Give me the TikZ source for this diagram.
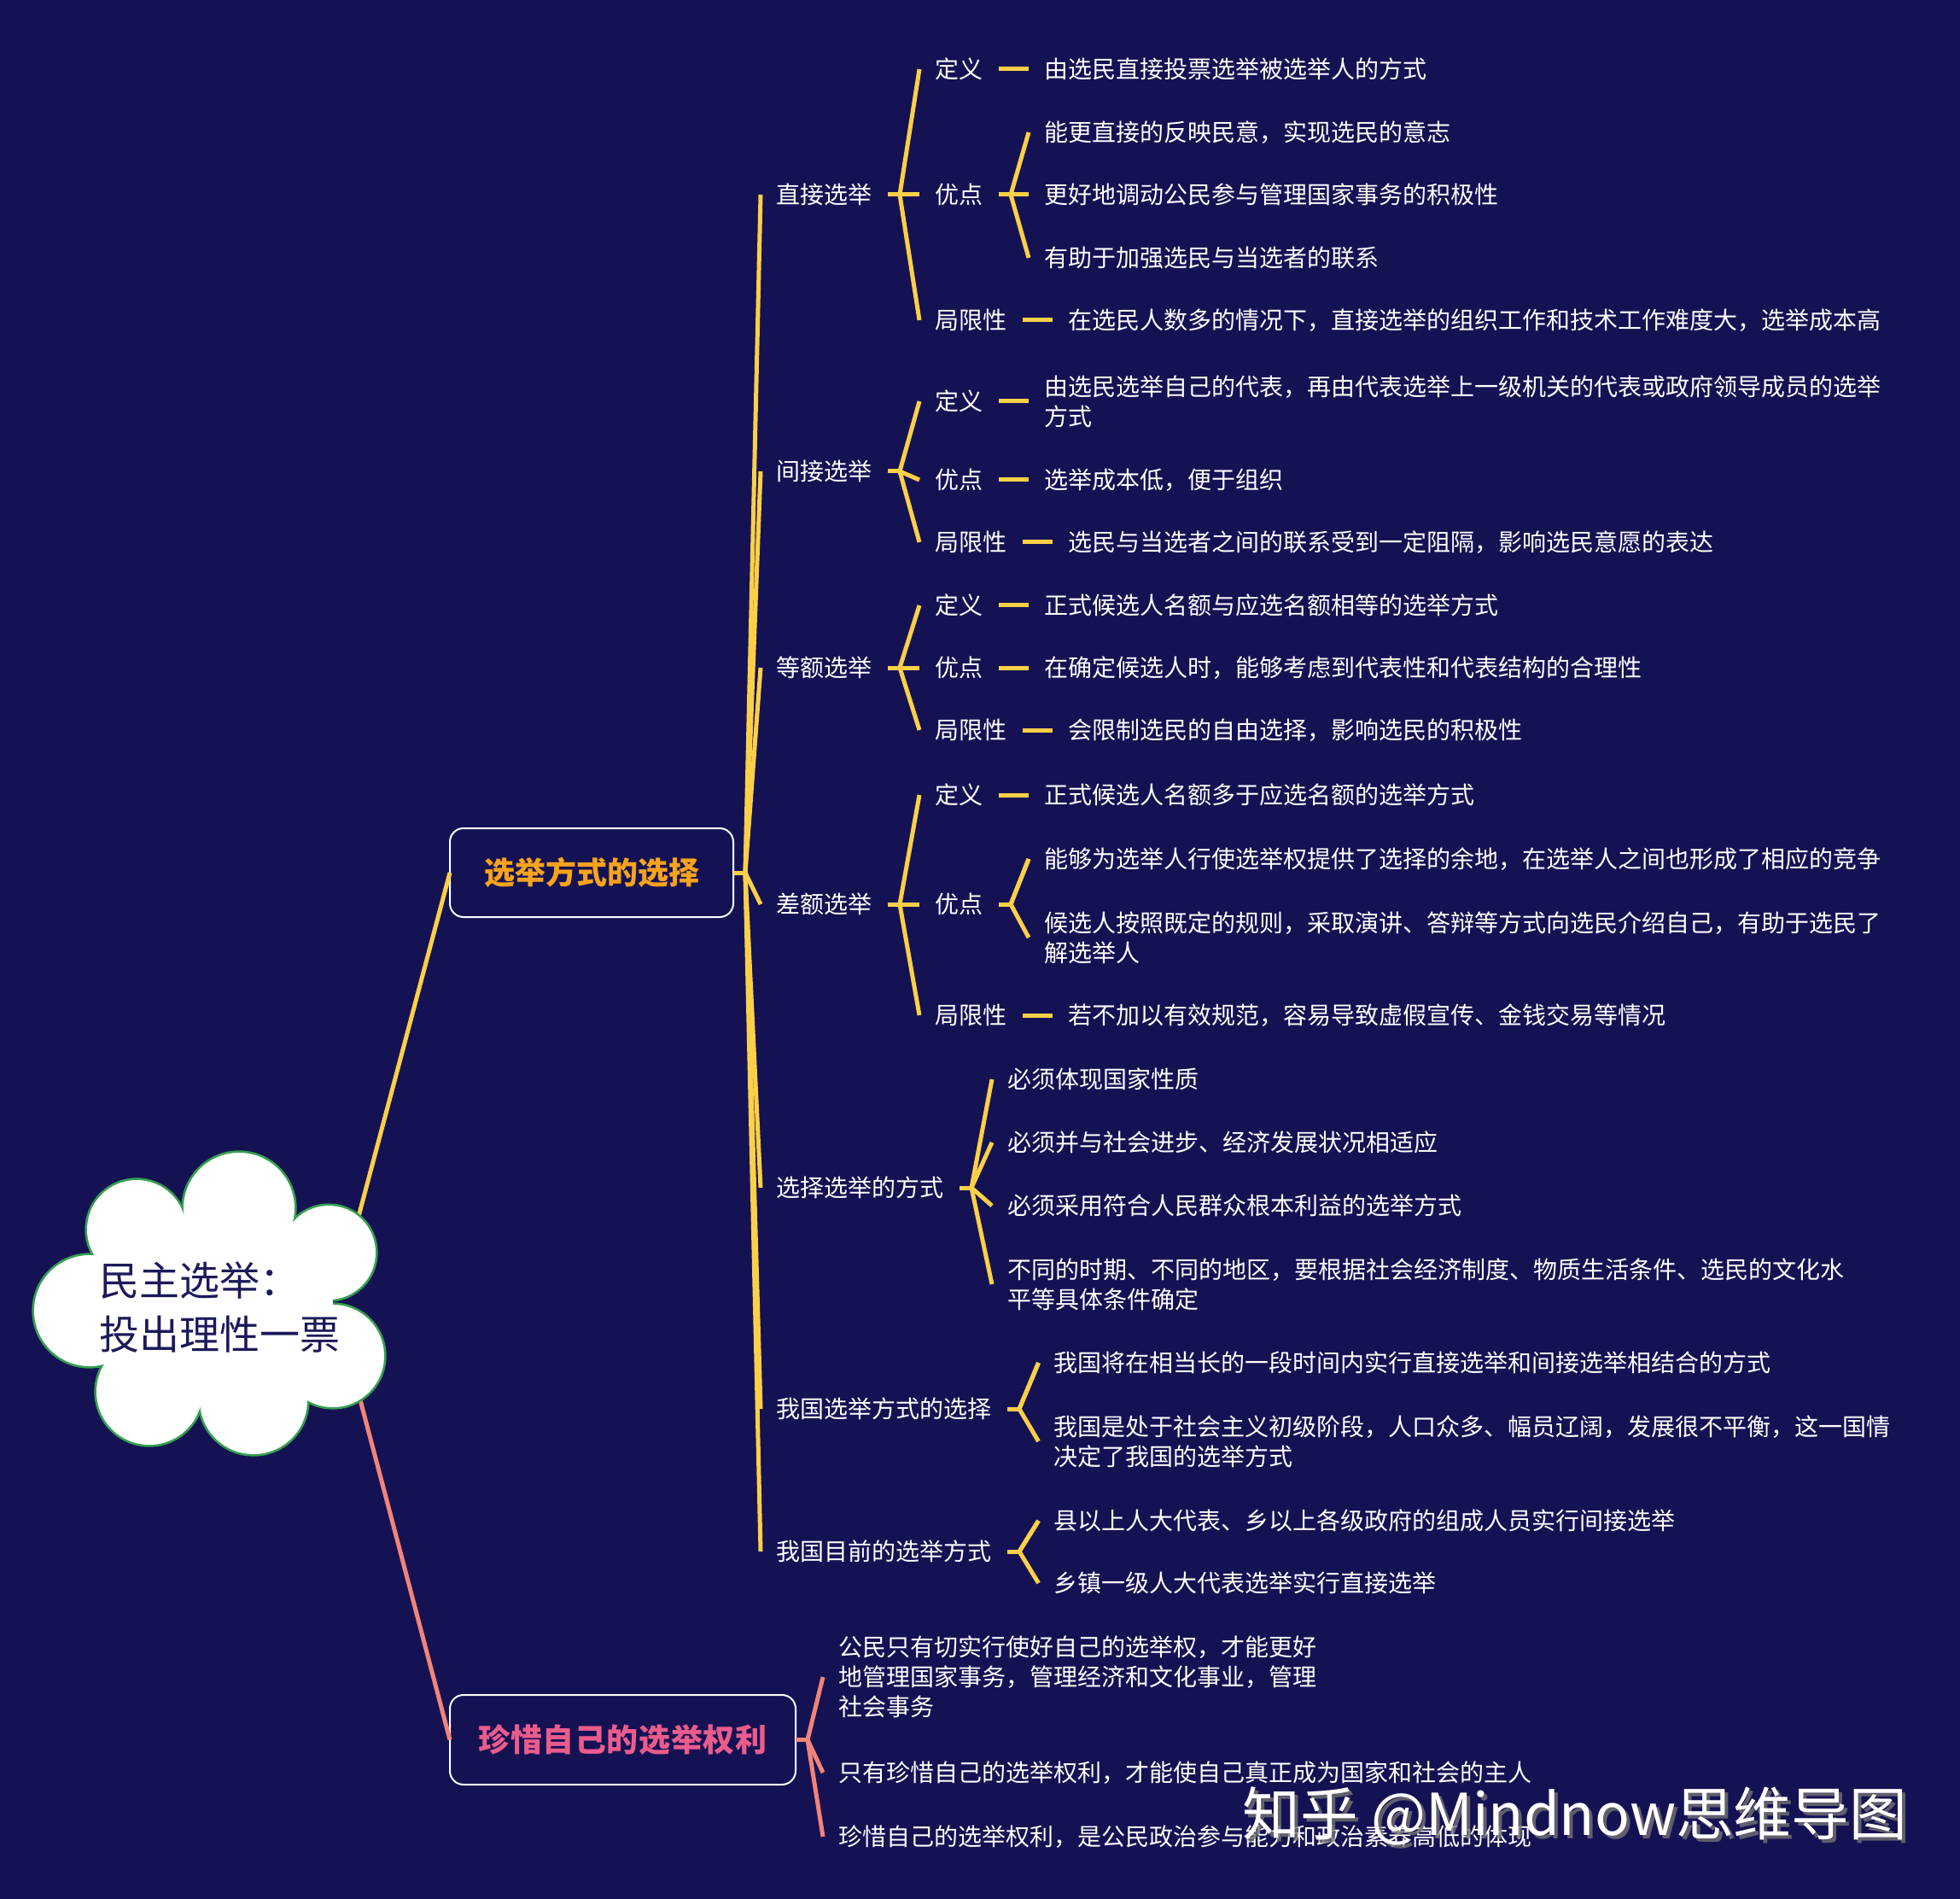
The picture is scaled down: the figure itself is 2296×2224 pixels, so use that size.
\documentclass[tikz,border=0pt]{standalone}
\usepackage{fontspec}
\setmainfont{Noto Sans CJK SC}
\usetikzlibrary{calc}
\definecolor{bg}{RGB}{21,18,84}
\definecolor{yl}{RGB}{251,208,72}
\definecolor{sal}{RGB}{241,132,120}
\definecolor{org}{RGB}{247,163,28}
\definecolor{pnk}{RGB}{234,92,140}
\definecolor{cgreen}{RGB}{52,160,80}
\definecolor{ctext}{RGB}{28,26,90}
\newcommand\mmlink[6]{%
  \draw[#1] ($(#2.east)+(#3,0)$) -- ++(14,0) coordinate (v);
  \draw[#1] ($(#4.west)+(-18,0)$) -- (v) -- ($(#5.west)+(-18,0)$);
  \foreach \ch in {#6}{\draw[#1] (v) -- ($(\ch.west)+(-18,0)$);}
}
\newcommand\sglink[3]{\draw[#1] ($(#2.east)+(19,0)$) -- ($(#3.west)+(-18,0)$);}
\tikzset{
  tx/.style={anchor=west, inner sep=0pt, outer sep=0pt, text=white, align=left,
    font=\fontsize{8.4}{10.5}\selectfont},
  yln/.style={draw=yl, line width=1.5pt},
  sln/.style={draw=sal, line width=1.5pt},
  mbox/.style={draw=white, line width=0.6pt, rounded corners=4.8pt, inner sep=0pt,
    outer sep=0pt, fill=bg},
}
\begin{document}
\begin{tikzpicture}[x=0.3pt,y=-0.3pt]
\fill[bg] (0,0) rectangle (2296,2224);
\useasboundingbox (0,0) rectangle (2296,2224);

% main boxes
\node[mbox, minimum width=99.6pt, minimum height=31.2pt, text=org,
  font=\fontsize{10.8}{13}\selectfont\bfseries] (box1) at (693,1022) {选举方式的选择};
\node[mbox, minimum width=121.5pt, minimum height=31.5pt, text=pnk,
  font=\fontsize{11.1}{13}\selectfont\bfseries\addfontfeature{LetterSpace=1.5}] (box2) at (729.5,2037.5) {珍惜自己的选举权利};

% connectors from centre
\coordinate (ya) at (400,1500);
\coordinate (sa) at (401,1560);
\draw[yln] (ya) -- (box1.west);
\draw[sln] (sa) -- (box2.west);

% cloud
\foreach \cx/\cy/\r in {280/1415/65,160/1440/58,385/1467/55,105/1535/65,390/1588/60,175/1630/62,297/1640/63}
  \draw[cgreen, line width=1.6pt] (\cx,\cy) circle[radius=\r];
\foreach \cx/\cy/\r in {280/1415/65,160/1440/58,385/1467/55,105/1535/65,390/1588/60,175/1630/62,297/1640/63}
  \fill[white] (\cx,\cy) circle[radius=\r];
\fill[white] (250,1530) ellipse[x radius=140, y radius=110];
\node[anchor=west, inner sep=0pt, align=left, text=ctext,
  font=\fontsize{14.1}{18.9}\selectfont] (ct) at (116,1531) {民主选举：\\投出理性一票};

% level 2
\node[tx] (L2a) at (909,228) {直接选举};
\node[tx] (L2b) at (909,552) {间接选举};
\node[tx] (L2c) at (909,782) {等额选举};
\node[tx] (L2d) at (909,1059) {差额选举};
\node[tx] (L2e) at (909,1391) {选择选举的方式};
\node[tx] (L2f) at (909,1650) {我国选举方式的选择};
\node[tx] (L2g) at (909,1817) {我国目前的选举方式};

% level 3
\node[tx] (a1) at (1095,81) {定义};
\node[tx] (a2) at (1095,228) {优点};
\node[tx] (a3) at (1095,375) {局限性};
\node[tx] (b1) at (1095,470) {定义};
\node[tx] (b2) at (1095,562) {优点};
\node[tx] (b3) at (1095,635) {局限性};
\node[tx] (c1) at (1095,709) {定义};
\node[tx] (c2) at (1095,782) {优点};
\node[tx] (c3) at (1095,855) {局限性};
\node[tx] (d1) at (1095,931) {定义};
\node[tx] (d2) at (1095,1059) {优点};
\node[tx] (d3) at (1095,1189) {局限性};

% level 4
\node[tx] (a1c) at (1223,81) {由选民直接投票选举被选举人的方式};
\node[tx] (a2c1) at (1223,155) {能更直接的反映民意，实现选民的意志};
\node[tx] (a2c2) at (1223,228) {更好地调动公民参与管理国家事务的积极性};
\node[tx] (a2c3) at (1223,302) {有助于加强选民与当选者的联系};
\node[tx] (a3c) at (1251,375) {在选民人数多的情况下，直接选举的组织工作和技术工作难度大，选举成本高};
\node[tx] (b1c) at (1223,470) {由选民选举自己的代表，再由代表选举上一级机关的代表或政府领导成员的选举\\方式};
\node[tx] (b2c) at (1223,562) {选举成本低，便于组织};
\node[tx] (b3c) at (1251,635) {选民与当选者之间的联系受到一定阻隔，影响选民意愿的表达};
\node[tx] (c1c) at (1223,709) {正式候选人名额与应选名额相等的选举方式};
\node[tx] (c2c) at (1223,782) {在确定候选人时，能够考虑到代表性和代表结构的合理性};
\node[tx] (c3c) at (1251,855) {会限制选民的自由选择，影响选民的积极性};
\node[tx] (d1c) at (1223,931) {正式候选人名额多于应选名额的选举方式};
\node[tx] (d2c1) at (1223,1006) {能够为选举人行使选举权提供了选择的余地，在选举人之间也形成了相应的竞争};
\node[tx] (d2c2) at (1223,1098) {候选人按照既定的规则，采取演讲、答辩等方式向选民介绍自己，有助于选民了\\解选举人};
\node[tx] (d3c) at (1251,1189) {若不加以有效规范，容易导致虚假宣传、金钱交易等情况};

\node[tx] (e1) at (1180,1264) {必须体现国家性质};
\node[tx] (e2) at (1180,1338) {必须并与社会进步、经济发展状况相适应};
\node[tx] (e3) at (1180,1412) {必须采用符合人民群众根本利益的选举方式};
\node[tx] (e4) at (1180,1504) {不同的时期、不同的地区，要根据社会经济制度、物质生活条件、选民的文化水\\平等具体条件确定};

\node[tx] (f1) at (1234.5,1596) {我国将在相当长的一段时间内实行直接选举和间接选举相结合的方式};
\node[tx] (f2) at (1234.5,1688) {我国是处于社会主义初级阶段，人口众多、幅员辽阔，发展很不平衡，这一国情\\决定了我国的选举方式};

\node[tx] (g1) at (1234.5,1781) {县以上人大代表、乡以上各级政府的组成人员实行间接选举};
\node[tx] (g2) at (1234.5,1854) {乡镇一级人大代表选举实行直接选举};

\node[tx] (h1) at (982,1964) {公民只有切实行使好自己的选举权，才能更好\\地管理国家事务，管理经济和文化事业，管理\\社会事务};
\node[tx] (h2) at (982,2076) {只有珍惜自己的选举权利，才能使自己真正成为国家和社会的主人};
\node[tx] (h3) at (982,2151) {珍惜自己的选举权利，是公民政治参与能力和政治素养高低的体现};

% connectors
\mmlink{yln}{box1}{0}{L2a}{L2g}{L2b,L2c,L2d,L2e,L2f}
\mmlink{yln}{L2a}{19}{a1}{a3}{a2}
\mmlink{yln}{L2b}{19}{b1}{b3}{b2}
\mmlink{yln}{L2c}{19}{c1}{c3}{c2}
\mmlink{yln}{L2d}{19}{d1}{d3}{d2}
\mmlink{yln}{L2e}{19}{e1}{e4}{e2,e3}
\mmlink{yln}{L2f}{19}{f1}{f2}{f1}
\mmlink{yln}{L2g}{19}{g1}{g2}{g1}
\mmlink{yln}{a2}{19}{a2c1}{a2c3}{a2c2}
\mmlink{yln}{d2}{19}{d2c1}{d2c2}{d2c1}
\sglink{yln}{a1}{a1c}
\sglink{yln}{a3}{a3c}
\sglink{yln}{b1}{b1c}
\sglink{yln}{b2}{b2c}
\sglink{yln}{b3}{b3c}
\sglink{yln}{c1}{c1c}
\sglink{yln}{c2}{c2c}
\sglink{yln}{c3}{c3c}
\sglink{yln}{d1}{d1c}
\sglink{yln}{d3}{d3c}
\mmlink{sln}{box2}{0}{h1}{h3}{h2}

% watermark
\node[anchor=west, inner sep=0pt, text=black!55, opacity=0.8,
  font=\fontsize{20.3}{21}\selectfont] (wms) at (1459,2131) {知乎 @Mindnow思维导图};
\node[anchor=west, inner sep=0pt, text=white,
  font=\fontsize{20.3}{21}\selectfont] (wm) at (1455,2127) {知乎 @Mindnow思维导图};
\end{tikzpicture}
\end{document}
